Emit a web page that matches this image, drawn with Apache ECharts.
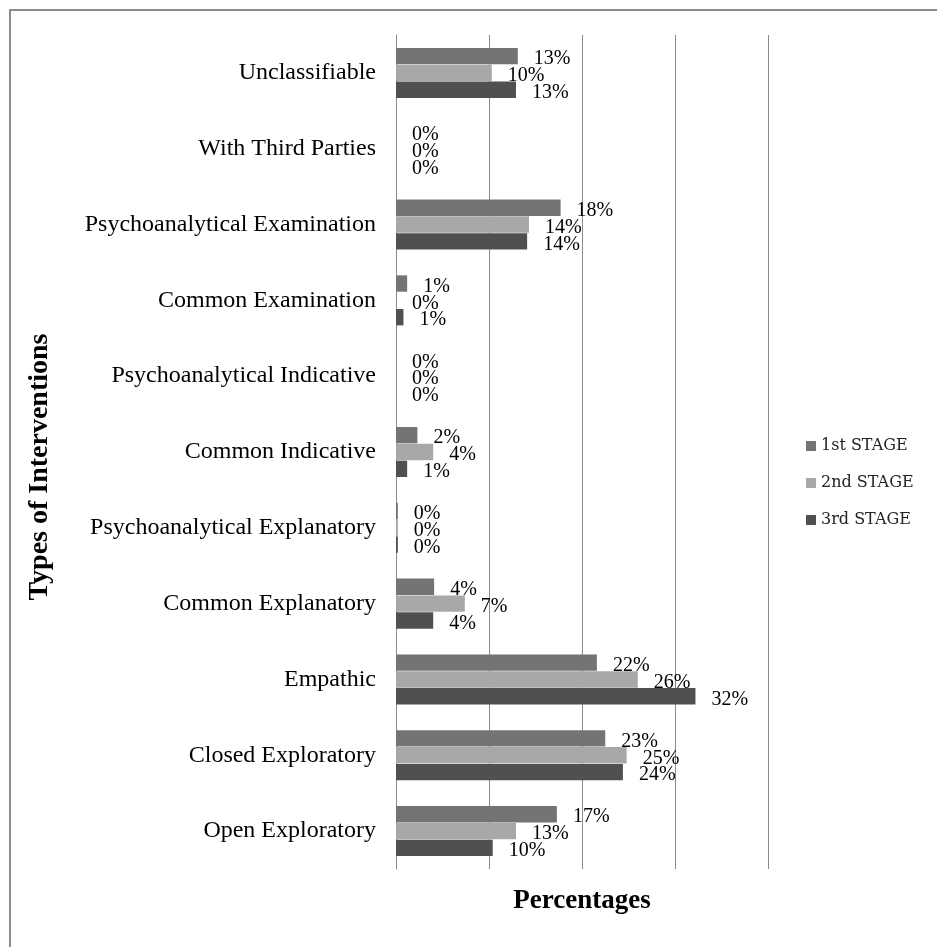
<!DOCTYPE html>
<html>
<head>
<meta charset="utf-8">
<script src="https://cdn.jsdelivr.net/npm/echarts@6/dist/echarts.min.js"></script>
<style>
  html, body { margin: 0; padding: 0; background: #ffffff; }
  #chart { width: 937px; height: 947px; }
</style>
</head>
<body>
<div id="chart"></div>
<script>
// Intervention types, listed top to bottom
const categories = [
  'Unclassifiable',
  'With Third Parties',
  'Psychoanalytical Examination',
  'Common Examination',
  'Psychoanalytical Indicative',
  'Common Indicative',
  'Psychoanalytical Explanatory',
  'Common Explanatory',
  'Empathic',
  'Closed Exploratory',
  'Open Exploratory'
];

const seriesNames = ['1st STAGE', '2nd STAGE', '3rd STAGE'];

// Percentages per stage, in category order
const stage1 = [13.1, 0, 17.7, 1.2, 0, 2.3, 0.2, 4.1, 21.6, 22.5, 17.3];
const stage2 = [10.3, 0, 14.3, 0, 0, 4.0, 0.2, 7.4, 26.0, 24.8, 12.9];
const stage3 = [12.9, 0, 14.1, 0.8, 0, 1.2, 0.2, 4.0, 32.2, 24.4, 10.4];

const stageValues = [stage1, stage2, stage3];
const stageColors = ['#747474', '#a8a8a8', '#505050'];

const serif = '"Liberation Serif", "Times New Roman", serif';

const chart = echarts.init(document.getElementById('chart'), null, { renderer: 'canvas' });

chart.setOption({
  backgroundColor: '#ffffff',
  animation: false,
  grid: { left: 396, top: 35, width: 372, height: 834, containLabel: false },
  xAxis: {
    type: 'value',
    min: 0,
    max: 40,
    interval: 10,
    axisLine: { show: false },
    axisTick: { show: false },
    axisLabel: { show: false },
    splitLine: { show: true, lineStyle: { color: '#8a8a8a', width: 1 } }
  },
  yAxis: {
    type: 'category',
    inverse: true,
    data: categories,
    axisLine: { show: true, lineStyle: { color: '#8a8a8a', width: 1 } },
    axisTick: { show: false },
    axisLabel: {
      margin: 20,
      color: '#000000',
      fontFamily: serif,
      fontSize: 24
    }
  },
  legend: {
    orient: 'vertical',
    left: 806,
    top: 438,
    padding: 0,
    itemWidth: 10,
    itemHeight: 10,
    itemGap: 21,
    icon: 'rect',
    data: seriesNames,
    textStyle: {
      color: '#222222',
      fontFamily: '"DejaVu Serif", serif',
      fontSize: 16
    }
  },
  series: seriesNames.map((name, i) => ({
    name: name,
    type: 'bar',
    data: stageValues[i],
    barCategoryGap: '34%',
    barGap: '3%',
    itemStyle: { color: stageColors[i] },
    label: {
      show: true,
      position: 'right',
      distance: 16,
      offset: [0, 3],
      color: '#000000',
      fontFamily: serif,
      fontSize: 20,
      formatter: p => Math.round(p.value) + '%'
    }
  })),
  graphic: [
    {
      type: 'rect',
      silent: true,
      shape: { x: 10, y: 10, width: 1000, height: 1000 },
      style: { fill: 'none', stroke: '#8c8c8c', lineWidth: 2 }
    },
    {
      type: 'text',
      x: 582,
      y: 901,
      style: {
        text: 'Percentages',
        textAlign: 'center',
        textVerticalAlign: 'middle',
        font: 'bold 27px "Liberation Serif", serif',
        fill: '#000000'
      }
    },
    {
      type: 'text',
      x: 40,
      y: 467,
      rotation: Math.PI / 2,
      style: {
        text: 'Types of Interventions',
        textAlign: 'center',
        textVerticalAlign: 'middle',
        font: 'bold 28px "Liberation Serif", serif',
        fill: '#000000'
      }
    }
  ]
});
</script>
</body>
</html>
